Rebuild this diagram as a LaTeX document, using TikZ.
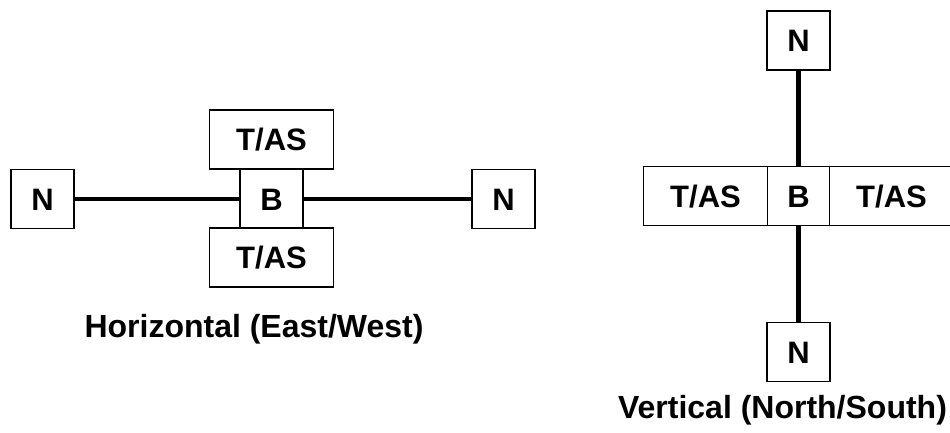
\documentclass[tikz,border=0pt]{standalone}
\usepackage{fontspec}
\setmainfont{Liberation Sans}
\begin{document}
\begin{tikzpicture}[x=1pt,y=-1pt,
  box/.style={draw=black,line width=1.6pt,fill=white,inner sep=0pt,
    font=\fontsize{31}{36}\selectfont\bfseries,text height=22.2pt,text depth=0pt},
  nbox/.style={box,minimum width=63pt,minimum height=59pt},
  tbox/.style={box,minimum width=124pt,minimum height=59pt},
  link/.style={line width=4.5pt},
  caption/.style={font=\fontsize{32}{36}\selectfont\bfseries,anchor=base,inner sep=0pt}]
\useasboundingbox (0,0) rectangle (950,432);
\begin{scope}
\clip (0,0) rectangle (950,432);
% Horizontal
\node[nbox] (nl) at (42.5,199) {N};
\node[nbox] (b1) at (271.5,199) {B};
\node[tbox] (t1) at (271.5,139.5) {T/AS};
\node[tbox] (t2) at (271.5,257.5) {T/AS};
\node[nbox] (nr) at (503.5,199) {N};
\draw[link] (nl) -- (b1);
\draw[link] (b1) -- (nr);
\node[caption] (hcap) at (254,337) {Horizontal (East/West)};
% Vertical
\node[nbox] (nt) at (798.5,40.5) {N};
\node[nbox] (b2) at (798.5,196) {B};
\node[tbox] (tl) at (705.5,196) {T/AS};
\node[tbox] (tr) at (891.5,196) {T/AS};
\node[nbox] (nb) at (798.5,352) {N};
\draw[link] (nt) -- (b2);
\draw[link] (b2) -- (nb);
\node[caption] (vcap) at (782.5,418) {Vertical (North/South)};
\end{scope}
\end{tikzpicture}
\end{document}
